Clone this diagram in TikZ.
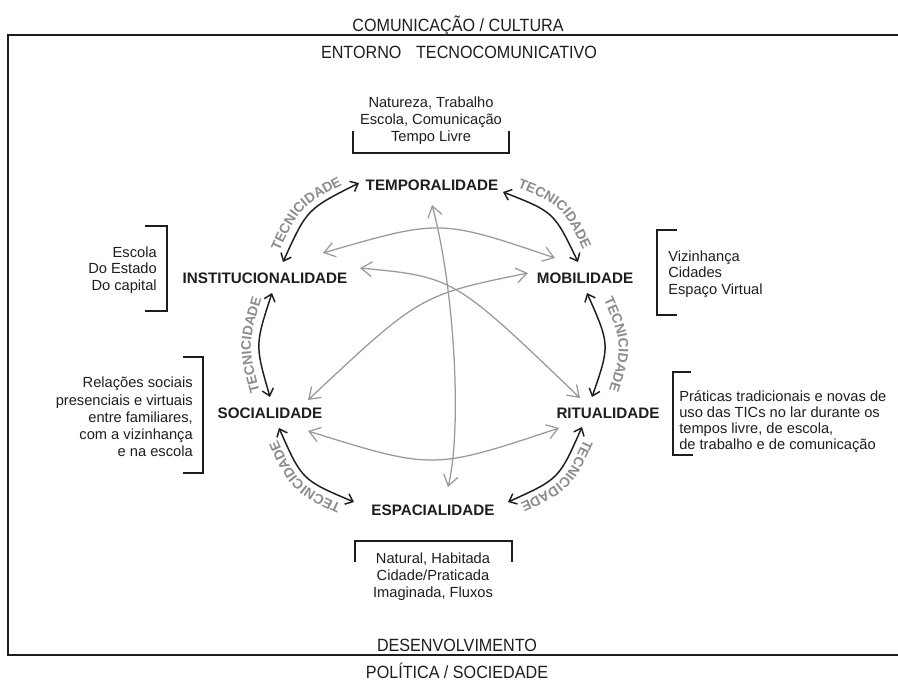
\documentclass[tikz,border=0pt]{standalone}
\usepackage{fontspec}
\setmainfont{Liberation Sans}
\newfontfamily\narrowfont[FakeStretch=0.91]{Liberation Sans}
\usetikzlibrary{arrows.meta,decorations.text}
\definecolor{ink}{HTML}{1E1E1E}
\definecolor{arrowgray}{HTML}{9A9A9A}
\definecolor{tecgray}{HTML}{8C8C8C}
\newcommand{\tecfont}{\bfseries\fontsize{10.4pt}{12pt}\selectfont}
\begin{document}
\begin{tikzpicture}[x=0.75pt,y=-0.75pt,
  header/.style={font={\narrowfont\fontsize{13.3pt}{15pt}\selectfont}, text=ink, inner sep=0pt, anchor=base},
  body/.style={font={\fontsize{11pt}{12.75pt}\selectfont}, text=ink, inner sep=0pt},
  dim/.style={font={\bfseries\fontsize{11.4pt}{13pt}\selectfont}, text=ink, inner sep=0pt, anchor=base},
  teclabel/.style={decorate, decoration={text along path, text={|\tecfont|TECNICIDADE}, text align=center, text color=tecgray}},
  blk/.style={draw=ink, line width=1.1pt, {Straight Barb[length=5pt,width=8.5pt]}-{Straight Barb[length=5pt,width=8.5pt]}},
  gry/.style={draw=arrowgray, line width=0.95pt, {Straight Barb[length=8pt,width=11pt]}-{Straight Barb[length=8pt,width=11pt]}},
  brk/.style={draw=ink, line width=1.8pt},
  frame/.style={draw=ink, line width=1.4pt}
]
\fill[white] (0,0) rectangle (898,682);
\useasboundingbox (0,0) rectangle (898,682);

% outer frame (open on the right)
\draw[frame] (898,35) -- (8,35) -- (8,655) -- (898,655);

% headers
\node[header] (comcult) at (458,31) {COMUNICAÇÃO / CULTURA};
\node[header] (entorno) at (459,58) {ENTORNO\hspace{11pt}TECNOCOMUNICATIVO};
\node[header] (desenv) at (457,651) {DESENVOLVIMENTO};
\node[header] (polsoc) at (457,678) {POLÍTICA / SOCIEDADE};

% dimension labels
\node[dim] (temp) at (432,190.5) {TEMPORALIDADE};
\node[dim] (inst) at (265,283.5) {INSTITUCIONALIDADE};
\node[dim] (mob)  at (585,283.5) {MOBILIDADE};
\node[dim] (soc)  at (270,418.5) {SOCIALIDADE};
\node[dim] (rit)  at (608,418.5) {RITUALIDADE};
\node[dim] (esp)  at (433,515.5) {ESPACIALIDADE};

% text blocks
\node[body, align=center] (ttemp) at (431,121) {Natureza, Trabalho\\Escola, Comunicação\\Tempo Livre};
\node[body, align=right, anchor=east, font={\fontsize{11pt}{12.4pt}\selectfont}] (tinst) at (157,270) {Escola\\Do Estado\\Do capital};
\node[body, align=right, anchor=east, font={\fontsize{11pt}{12.9pt}\selectfont}] (tsoc) at (193,417) {Relações sociais\\presenciais e virtuais\\entre familiares,\\com a vizinhança\\e na escola};
\node[body, align=left, anchor=west, font={\fontsize{11pt}{12.4pt}\selectfont}] (tmob) at (668,274) {Vizinhança\\Cidades\\Espaço Virtual};
\node[body, align=left, anchor=west, font={\fontsize{11pt}{12pt}\selectfont}] (trit) at (679,422) {Práticas tradicionais e novas de\\uso das TICs no lar durante os\\tempos livre, de escola,\\de trabalho e de comunicação};
\node[body, align=center] (tesp) at (433,577) {Natural, Habitada\\Cidade/Praticada\\Imaginada, Fluxos};

% brackets
\draw[brk] (353,131) -- (353,153) -- (509,153) -- (509,131);
\draw[brk] (145,226) -- (167,226) -- (167,311) -- (145,311);
\draw[brk] (183,357) -- (203,357) -- (203,473) -- (183,473);
\draw[brk] (677,230) -- (657,230) -- (657,315) -- (677,315);
\draw[brk] (691,372) -- (673,372) -- (673,455) -- (693,455);
\draw[brk] (355,562) -- (355,541) -- (512,541) -- (512,562);

% connector end points
\coordinate (instTop) at (283,262);
\coordinate (tempL) at (359,183);
\coordinate (tempR) at (503,192);
\coordinate (mobTop) at (578,262);
\coordinate (instBot) at (272,293);
\coordinate (socTop) at (270,397);
\coordinate (mobBot) at (587,293);
\coordinate (ritTop) at (592,397);
\coordinate (socBot) at (279,428);
\coordinate (espL) at (354,502);
\coordinate (ritBot) at (582,427);
\coordinate (espR) at (508,502);

\coordinate (instG1) at (323,253);
\coordinate (mobG1) at (555,258);
\coordinate (instG2) at (360,268);
\coordinate (ritG2) at (580,398);
\coordinate (mobG2) at (528,273);
\coordinate (socG2) at (308,400);
\coordinate (socG3) at (308,431);
\coordinate (ritG3) at (559,428);
\coordinate (tempG) at (432,205);
\coordinate (espG) at (448,487);

% black arrows (tecnicidade ring)
\draw[blk] (instTop) .. controls (307,209) .. (tempL);
\draw[blk] (tempR) .. controls (554,212) .. (mobTop);
\draw[blk] (instBot) .. controls (255,345) .. (socTop);
\draw[blk] (mobBot) .. controls (610,345) .. (ritTop);
\draw[blk] (socBot) .. controls (302,480) .. (espL);
\draw[blk] (ritBot) .. controls (559,479) .. (espR);

% gray arrows
\draw[gry] (instG1) .. controls (440,219) .. (mobG1);
\draw[gry] (socG3) .. controls (433,470) .. (ritG3);
\draw[gry] (instG2) .. controls (454,277) .. (ritG2);
\draw[gry] (mobG2) .. controls (420,295) .. (socG2);
\draw[gry] (tempG) .. controls (455,290) and (462,430) .. (espG);

% TECNICIDADE labels, set along arcs just outside the black arrows
\path[teclabel] (275,261) .. controls (299,207) .. (352,180);
\path[teclabel] (511,185) .. controls (562,205) .. (586,256);
\path[teclabel] (262,399) .. controls (247,345) .. (264,291);
\path[teclabel] (600,291) .. controls (624,345) .. (606,399);
\path[teclabel] (349,508) .. controls (298,485) .. (274,432);
\path[teclabel] (588,431) .. controls (564,484) .. (512,507);
\end{tikzpicture}
\end{document}
